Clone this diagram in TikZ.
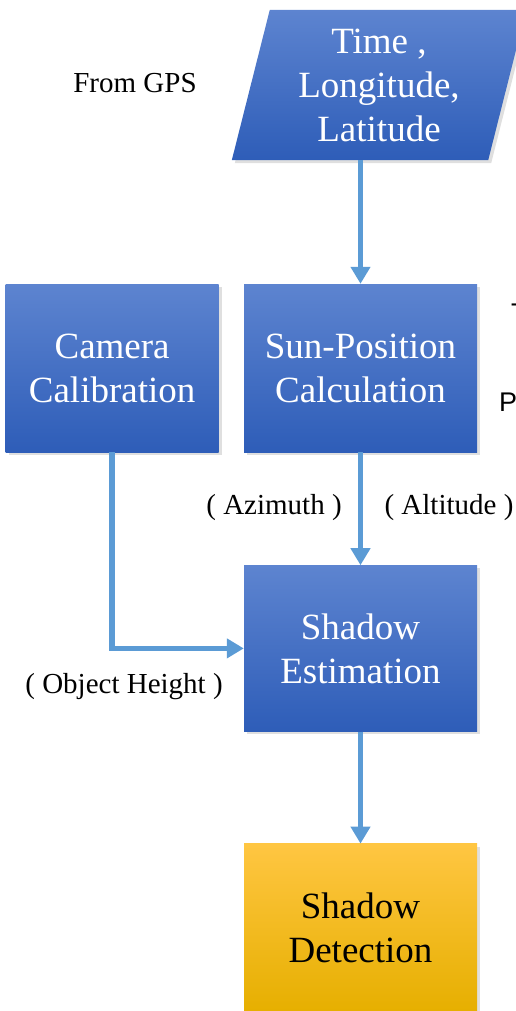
\documentclass[tikz,border=0pt]{standalone}
\usepackage{fontspec}
\setmainfont{Liberation Serif}
\newfontfamily\sidefont{Liberation Sans}
\usepackage{tikz}
\usetikzlibrary{arrows.meta,positioning,shadows,backgrounds}
\definecolor{boxtop}{RGB}{93,132,208}
\definecolor{boxbot}{RGB}{46,93,184}
\definecolor{dettop}{RGB}{255,198,66}
\definecolor{detbot}{RGB}{230,175,0}
\definecolor{linkblue}{RGB}{91,155,213}

\begin{document}
\begin{tikzpicture}[x=1pt,y=1pt,
    box/.style={rectangle,inner sep=0pt,align=center,text=white,
                top color=boxtop,bottom color=boxbot,
                minimum width=233pt,minimum height=168pt,
                font=\fontsize{37}{44}\selectfont,
                drop shadow={opacity=0.25,shadow xshift=3pt,shadow yshift=-3pt}},
    detbox/.style={box,text=black,top color=dettop,bottom color=detbot},
    lbl/.style={font=\fontsize{29}{34}\selectfont},
    arr/.style={-{Triangle[length=17pt,width=19pt]},line width=5.5pt,linkblue},
  ]
    \useasboundingbox (0,0) rectangle (516,-1011);
    % input parallelogram
    \node[inner sep=0pt,align=center,text=white,minimum width=256pt,
          minimum height=150pt,font=\fontsize{37}{44}\selectfont]
          (inp) at (379,-85) {Time ,\\Longitude,\\Latitude};
    \begin{scope}[on background layer]
      \path[top color=boxtop,bottom color=boxbot,
            drop shadow={opacity=0.25,shadow xshift=3pt,shadow yshift=-3pt}]
        ([xshift=-19pt]inp.south west) -- ([xshift=-19pt]inp.south east)
        -- ([xshift=19pt]inp.north east) -- ([xshift=19pt]inp.north west) -- cycle;
    \end{scope}
    \node[box](sun) at (360.5,-368) {Sun-Position\\Calculation};
    \node[box,minimum width=213pt,left=25pt of sun](cam) {Camera\\Calibration};
    \node[box,minimum height=166pt,below=113pt of sun](est) {Shadow\\Estimation};
    \node[detbox,below=112pt of est](det) {Shadow\\Detection};
    \draw[arr](inp.south -| sun.north)--(sun.north);
    \draw[arr](sun)--(est);
    \draw[arr](est)--(det);
    \draw[arr](cam.south)|-(est.west);
    \node[lbl](gps) at (135,-83) {From GPS};
    \node[lbl](azi) at (274,-508) {( Azimuth )};
    \node[lbl](alt) at (449,-508) {( Altitude )};
    \node[lbl](obj) at (124,-687) {( Object Height )};
    % cut-off text at the right edge
    \node[font=\sidefont\fontsize{27}{32}\selectfont,anchor=base west,inner sep=0pt]
      (cutt) at (511,-322) {T};
    \node[font=\sidefont\fontsize{27}{32}\selectfont,anchor=base west,inner sep=0pt]
      (cutp) at (499,-411) {P};
\end{tikzpicture}
\end{document}
